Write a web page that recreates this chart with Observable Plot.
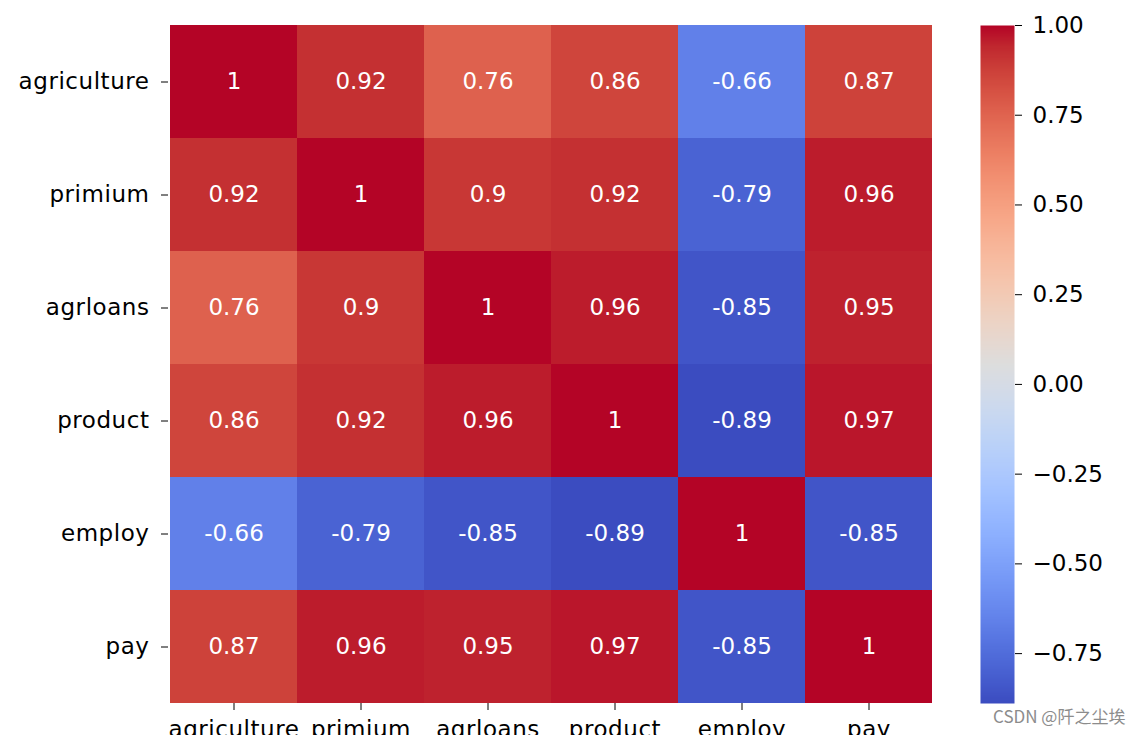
<!DOCTYPE html>
<html>
<head>
<meta charset="utf-8">
<script src="https://cdn.jsdelivr.net/npm/d3@7"></script>
<script src="https://cdn.jsdelivr.net/npm/@observablehq/plot@0.6"></script>
<style>
  html, body { margin: 0; padding: 0; background: white; overflow: hidden; }
  #wrap { position: relative; width: 1144px; height: 735px; }
  #main { position: absolute; left: 0; top: 0; }
  #bar { position: absolute; left: 960px; top: 0; }
  #wm { position: absolute; left: 993px; top: 703px; font-family: "Noto Sans CJK SC", "DejaVu Sans", sans-serif; font-size: 17px; color: #8c8c8c; white-space: nowrap; }
</style>
</head>
<body>
<div id="wrap">
  <div id="main"></div>
  <div id="bar"></div>
  <div id="wm">CSDN @阡之尘埃</div>
</div>
<script>
// Variables (rows = columns)
const variables = ["agriculture", "primium", "agrloans", "product", "employ", "pay"];
// Correlation rows as displayed
const agriculture = [1, 0.92, 0.76, 0.86, -0.66, 0.87];
const primium     = [0.92, 1, 0.9, 0.92, -0.79, 0.96];
const agrloans    = [0.76, 0.9, 1, 0.96, -0.85, 0.95];
const product     = [0.86, 0.92, 0.96, 1, -0.89, 0.97];
const employ      = [-0.66, -0.79, -0.85, -0.89, 1, -0.85];
const pay         = [0.87, 0.96, 0.95, 0.97, -0.85, 1];
// Colorbar
const colorMin = -0.889, colorMax = 1.0;
const colorbarTicks = [1.0, 0.75, 0.5, 0.25, 0.0, -0.25, -0.5, -0.75];

// coolwarm colormap stops
const coolwarm = [
  [59,76,192],[68,90,204],[77,104,215],[87,117,225],[98,130,234],[108,142,241],
  [119,154,247],[130,165,251],[141,176,254],[152,185,255],[163,194,255],[174,201,253],
  [184,208,249],[194,213,244],[204,217,238],[213,219,230],[221,221,221],[229,216,209],
  [236,211,197],[241,204,184],[245,196,172],[247,187,160],[247,177,148],[247,166,135],
  [244,154,123],[241,141,111],[236,127,99],[229,112,88],[222,96,77],[213,80,66],
  [203,62,56],[192,40,47],[180,4,38]
].map(([r,g,b]) => `rgb(${r},${g},${b})`);
const coolwarmInterp = d3.piecewise(d3.interpolateRgb, coolwarm);

const matrix = [agriculture, primium, agrloans, product, employ, pay];
const cells = variables.flatMap((row, i) =>
  variables.map((col, j) => ({row, col, v: matrix[i][j]})));

const colorOpts = {type: "linear", domain: [colorMin, colorMax], interpolate: coolwarmInterp, clamp: true};
const font = {fontFamily: "'DejaVu Sans', sans-serif", fontSize: "23px", color: "black", background: "white"};

const main = Plot.plot({
  width: 960, height: 735,
  marginLeft: 168, marginRight: 27, marginTop: 25, marginBottom: 32,
  style: font,
  x: {domain: variables, padding: 0, tickSize: 7, tickPadding: 10, label: null},
  y: {domain: variables, padding: 0, tickSize: 7, tickPadding: 12, label: null},
  color: colorOpts,
  marks: [
    Plot.cell(cells, {x: "col", y: "row", fill: "v", inset: 0}),
    Plot.text(cells, {x: "col", y: "row", text: d => String(d.v), fill: "white", fontSize: 23})
  ]
});
main.querySelectorAll('g[aria-label*="axis"] text').forEach(t => t.setAttribute("letter-spacing", "0.55"));
document.getElementById("main").appendChild(main);

const bar = Plot.plot({
  width: 184, height: 735,
  marginLeft: 20, marginRight: 130, marginTop: 25, marginBottom: 32,
  style: font,
  x: {domain: [0, 1], axis: null},
  y: {domain: [colorMin, colorMax], axis: "right", ticks: colorbarTicks, tickFormat: d3.format(".2f"), tickSize: 7, tickPadding: 11, label: null},
  color: colorOpts,
  marks: [
    Plot.raster({x1: 0, x2: 1, y1: colorMin, y2: colorMax, width: 2, height: 600, fill: (x, y) => y})
  ]
});
document.getElementById("bar").appendChild(bar);
</script>
</body>
</html>
